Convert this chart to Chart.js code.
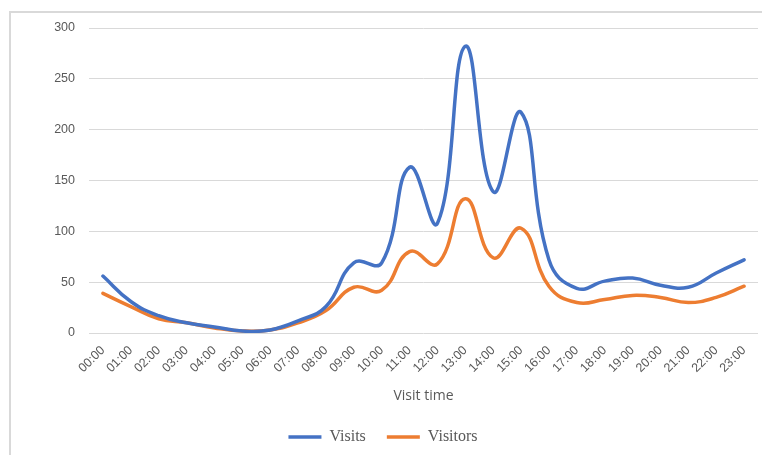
<!DOCTYPE html>
<html>
<head>
<meta charset="utf-8">
<script src="https://cdn.jsdelivr.net/npm/chart.js@4/dist/chart.umd.min.js"></script>
<style>
  html, body { margin: 0; padding: 0; background: #fff; }
  #wrap { position: relative; width: 762px; height: 455px; }
  #frame { position: absolute; left: 9px; top: 11px; right: 0; bottom: 0;
           border-left: 2px solid #d9d9d9; border-top: 2px solid #d9d9d9; }
  canvas { position: absolute; left: 0; top: 0; }
</style>
</head>
<body>
<div id="wrap">
  <div id="frame"></div>
  <canvas id="chart" width="762" height="455"></canvas>
</div>
<script>
// Hourly traffic
const hours = ['00:00','01:00','02:00','03:00','04:00','05:00','06:00','07:00','08:00','09:00','10:00','11:00',
               '12:00','13:00','14:00','15:00','16:00','17:00','18:00','19:00','20:00','21:00','22:00','23:00'];
const visits   = [56, 31, 17, 10, 6, 2, 3, 12, 26, 69, 69, 163, 108, 282, 139, 217, 72, 44, 51, 54, 47, 45, 59, 72];
const visitors = [39, 26, 14, 10, 5, 2, 3, 10, 22, 45, 42, 80, 68, 132, 74, 103, 46, 30, 33, 37, 35, 30, 35, 46];
const yTicks = [0, 50, 100, 150, 200, 250, 300];

const tickFont = { family: 'Liberation Sans', size: 12.5 };
const grey = '#595959';

new Chart(document.getElementById('chart'), {
  type: 'line',
  data: {
    labels: hours,
    datasets: [
      { label: 'Visits', data: visits, borderColor: '#4472C4', backgroundColor: '#4472C4',
        borderWidth: 3.5, pointRadius: 0, tension: 0.45, borderCapStyle: 'round' },
      { label: 'Visitors', data: visitors, borderColor: '#ED7D31', backgroundColor: '#ED7D31',
        borderWidth: 3.5, pointRadius: 0, tension: 0.45, borderCapStyle: 'round' }
    ]
  },
  options: {
    responsive: false,
    animation: false,
    layout: { padding: { left: 8, right: 4, top: 28, bottom: 0 } },
    plugins: {
      tooltip: { enabled: false },
      legend: {
        position: 'bottom',
        labels: {
          usePointStyle: true,
          pointStyle: 'line',
          pointStyleWidth: 33,
          color: grey,
          padding: 21,
          font: { family: 'Liberation Serif', size: 16 }
        }
      }
    },
    scales: {
      x: {
        offset: true,
        grid: { display: false },
        border: { display: false },
        ticks: { color: grey, font: tickFont, maxRotation: 45, minRotation: 45, autoSkip: false, padding: 2 },
        title: { display: true, text: 'Visit time', color: grey,
                 font: { family: 'Open Sans', size: 14 }, padding: { top: 0, bottom: 4 } },
        afterFit: s => { s.height = 75; }
      },
      y: {
        min: 0, max: 300,
        afterBuildTicks: s => { s.ticks = yTicks.map(v => ({ value: v })); },
        grid: { color: '#d9d9d9', lineWidth: 1, drawTicks: false },
        border: { display: false },
        ticks: { color: grey, font: tickFont, padding: 14 },
        afterFit: s => { s.width = 81; }
      }
    }
  }
});
</script>
</body>
</html>
